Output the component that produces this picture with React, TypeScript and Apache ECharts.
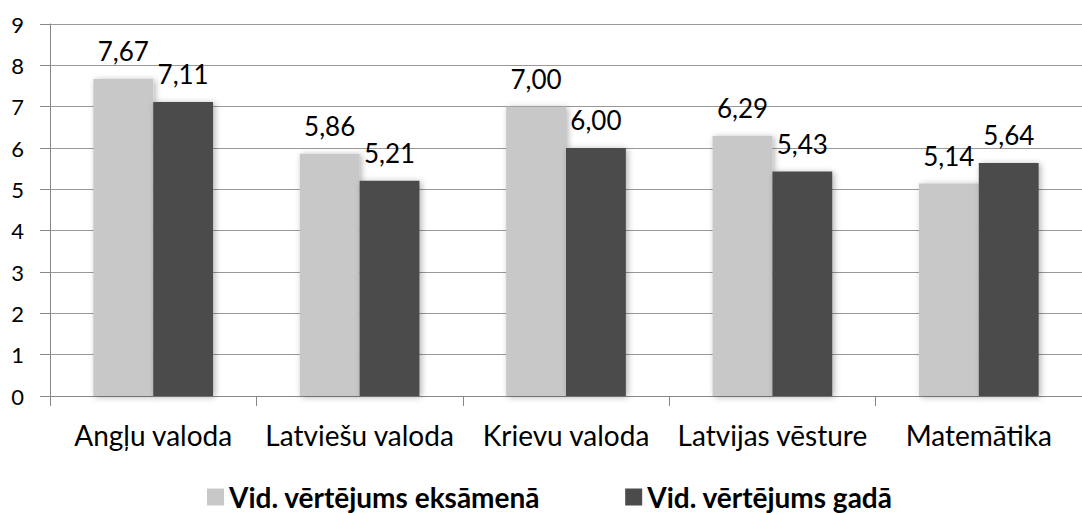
import React, { useEffect, useRef } from "react";
import * as echarts from "echarts";

const categories = ["Angļu valoda", "Latviešu valoda", "Krievu valoda", "Latvijas vēsture", "Matemātika"];
const examValues = [7.67, 5.86, 7.0, 6.29, 5.14];
const yearValues = [7.11, 5.21, 6.0, 5.43, 5.64];
const seriesNames = ["Vid. vērtējums eksāmenā", "Vid. vērtējums gadā"];

const FONT = "Lato, 'Open Sans', sans-serif";

export default function App() {
  const ref = useRef<HTMLDivElement>(null);
  useEffect(() => {
    if (!ref.current) return;
    const chart = echarts.init(ref.current, undefined, { renderer: "svg" });
    const label = {
      show: true,
      position: "top" as const,
      distance: 15,
      color: "#000",
      fontSize: 26,
      fontFamily: FONT,
      formatter: (p: any) => Number(p.value).toFixed(2).replace(".", ","),
    };
    chart.setOption({
      animation: false,
      textStyle: { fontFamily: FONT },
      grid: { left: 50, right: -10, top: 24, bottom: 117, containLabel: false },
      legend: {
        bottom: 2,
        left: 207,
        padding: 0,
        itemWidth: 17,
        itemHeight: 17,
        itemGap: 85,
        icon: "rect",
        textStyle: { fontSize: 28, fontWeight: "bold", color: "#000", fontFamily: FONT },
        data: seriesNames,
      },
      xAxis: {
        type: "category",
        data: categories,
        axisLine: { show: true, lineStyle: { color: "#888", width: 1 } },
        axisTick: { show: true, alignWithLabel: false, length: 10, lineStyle: { color: "#888" } },
        axisLabel: { color: "#000", fontSize: 28, margin: 25, fontFamily: FONT, interval: 0 },
      },
      yAxis: {
        type: "value",
        min: 0,
        max: 9,
        interval: 1,
        axisLine: { show: true, lineStyle: { color: "#888", width: 1 } },
        axisTick: { show: true, length: 10, lineStyle: { color: "#888" } },
        axisLabel: { color: "#000", fontSize: 22, margin: 26, fontFamily: FONT },
        splitLine: { show: true, lineStyle: { color: "#999", width: 1.2 } },
      },
      series: [
        {
          name: seriesNames[0],
          type: "bar",
          data: examValues,
          barGap: "0%",
          barCategoryGap: "42%",
          itemStyle: { color: "#c8c8c8", shadowBlur: 6, shadowColor: "rgba(0,0,0,0.3)", shadowOffsetX: 2, shadowOffsetY: 1 },
          label,
        },
        {
          name: seriesNames[1],
          type: "bar",
          data: yearValues,
          itemStyle: { color: "#4b4b4b", shadowBlur: 6, shadowColor: "rgba(0,0,0,0.3)", shadowOffsetX: 2, shadowOffsetY: 1 },
          label,
        },
      ],
    });
    return () => chart.dispose();
  }, []);
  return (
    <div
      ref={ref}
      style={{ position: "fixed", left: 0, top: 0, width: 1082, height: 513, background: "#fff" }}
    />
  );
}
